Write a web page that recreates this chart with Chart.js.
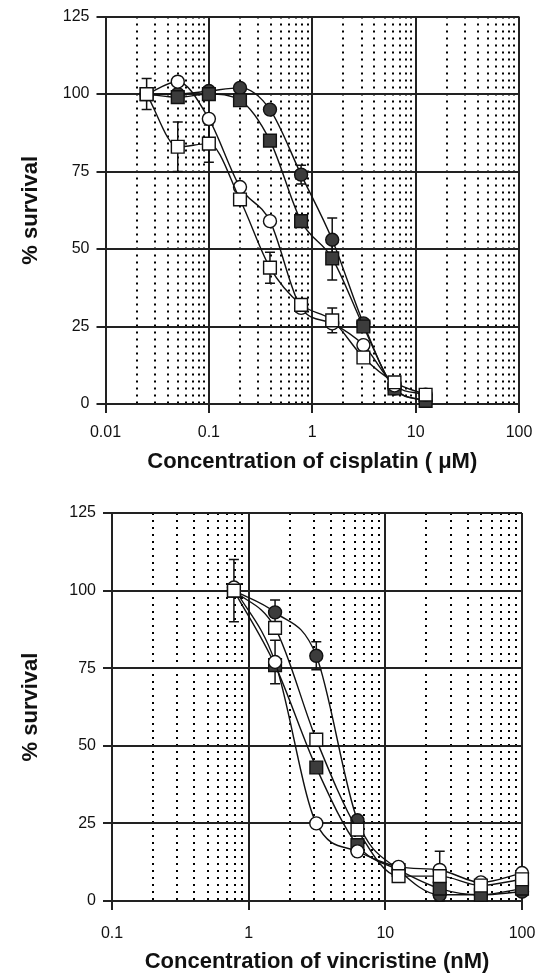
<!DOCTYPE html>
<html>
<head>
<meta charset="utf-8">
<title>% survival vs concentration</title>
<script src="https://cdn.jsdelivr.net/npm/chart.js@4.4.1/dist/chart.umd.min.js"></script>
<style>
  html, body { margin: 0; padding: 0; background: #fff; }
  canvas { display: block; }
</style>
</head>
<body>
<canvas id="cisChart" width="545" height="480"></canvas>
<canvas id="vinChart" width="545" height="500"></canvas>
<script>
// --- cisplatin panel (uM) ---
const cisDoses = [0.025, 0.05, 0.1, 0.2, 0.39, 0.78, 1.56, 3.125, 6.25, 12.5];
const cisOpenCircle = [100, 104, 92, 70, 59, 31, 26, 19, 6, 3];
const cisOpenSquare = [100, 83, 84, 66, 44, 32, 27, 15, 7, 3];
const cisFilledCircle = [100, 100, 101, 102, 95, 74, 53, 26, 5, 1];
const cisFilledSquare = [100, 99, 100, 98, 85, 59, 47, 25, 5, 1];
// error bars (+/-), 0 = none shown
const cisOpenCircleErr = [0, 0, 0, 0, 0, 0, 0, 0, 0, 0];
const cisOpenSquareErr = [5, 8, 6, 0, 5, 0, 4, 0, 0, 0];
const cisFilledCircleErr = [0, 0, 0, 0, 0, 3, 7, 0, 0, 0];
const cisFilledSquareErr = [0, 0, 0, 0, 0, 0, 7, 0, 0, 0];

// --- vincristine panel (nM) ---
const vinDoses = [0.78, 1.56, 3.125, 6.25, 12.5, 25, 50, 100];
const vinOpenCircle = [101, 77, 25, 16, 11, 10, 6, 9];
const vinOpenSquare = [100, 88, 52, 23, 8, 8, 5, 7];
const vinFilledCircle = [100, 93, 79, 26, 10, 2, 2, 3];
const vinFilledSquare = [100, 76, 43, 18, 10, 4, 2, 4];
const vinOpenCircleErr = [0, 7, 0, 0, 0, 0, 0, 0];
const vinOpenSquareErr = [10, 0, 0, 0, 0, 8, 0, 0];
const vinFilledCircleErr = [0, 4, 4.5, 0, 0, 0, 0, 0];
const vinFilledSquareErr = [0, 0, 0, 0, 0, 0, 0, 0];

const yTicks = [0, 25, 50, 75, 100, 125];

const FONT = "'Liberation Sans', Arial, Helvetica, sans-serif";
const INK = '#111';
const DARK_FILL = '#3c3c3c';

function logTicks(min, max) {
  const out = [];
  const e0 = Math.round(Math.log10(min));
  const e1 = Math.round(Math.log10(max));
  for (let e = e0; e < e1; e++) {
    for (let m = 1; m < 10; m++) out.push(+(m * Math.pow(10, e)).toPrecision(6));
  }
  out.push(max);
  return out;
}

function isDecade(v) {
  const l = Math.log10(v);
  return Math.abs(l - Math.round(l)) < 1e-9;
}

function series(xs, ys, errs, style, filled) {
  return {
    data: xs.map((x, i) => ({ x: x, y: ys[i] })),
    errors: errs,
    borderColor: INK,
    borderWidth: 1.4,
    pointStyle: style,
    pointRadius: style === 'rect' ? 9 : 6.5,
    pointBackgroundColor: filled ? DARK_FILL : '#fff',
    pointBorderColor: INK,
    pointBorderWidth: 1.4,
    cubicInterpolationMode: 'monotone',
    fill: false,
    clip: false
  };
}

// simple error bar drawing through the chart's own scales
const errorBars = {
  id: 'errorBars',
  beforeDatasetsDraw(chart) {
    const ctx = chart.ctx;
    const xs = chart.scales.x, ys = chart.scales.y;
    ctx.save();
    ctx.strokeStyle = INK;
    ctx.lineWidth = 1.5;
    chart.data.datasets.forEach(ds => {
      (ds.errors || []).forEach((e, i) => {
        if (!e) return;
        const p = ds.data[i];
        const px = xs.getPixelForValue(p.x);
        const top = ys.getPixelForValue(p.y + e);
        const bot = ys.getPixelForValue(p.y - e);
        ctx.beginPath();
        ctx.moveTo(px, top); ctx.lineTo(px, bot);
        ctx.moveTo(px - 5, top); ctx.lineTo(px + 5, top);
        ctx.moveTo(px - 5, bot); ctx.lineTo(px + 5, bot);
        ctx.stroke();
      });
    });
    ctx.restore();
  }
};

function makeChart(id, cfg) {
  const tickFont = { family: FONT, size: 16 };
  const titleFont = { family: FONT, size: 22, weight: 'bold' };
  return new Chart(document.getElementById(id), {
    type: 'line',
    data: { datasets: cfg.datasets },
    plugins: [errorBars],
    options: {
      responsive: false,
      devicePixelRatio: 1,
      animation: false,
      layout: { padding: { top: cfg.top, right: cfg.right, left: 0, bottom: 0 } },
      plugins: { legend: { display: false }, tooltip: { enabled: false } },
      scales: {
        x: {
          type: 'logarithmic',
          min: cfg.xMin,
          max: cfg.xMax,
          afterBuildTicks: s => {
            s.ticks = logTicks(cfg.xMin, cfg.xMax).map(v => ({ value: v, major: isDecade(v) }));
          },
          afterFit: s => {
            s.height = cfg.xAxisHeight;
            s.paddingLeft = 0;
            s.paddingRight = 0;
          },
          ticks: {
            autoSkip: false,
            maxRotation: 0,
            padding: cfg.xLabelPad,
            font: tickFont,
            color: INK,
            callback: v => isDecade(v) ? String(v) : ''
          },
          grid: {
            color: c => isDecade(c.tick.value) ? '#222' : '#000',
            lineWidth: 2,
            tickLength: 9,
            tickWidth: 2,
            tickColor: c => isDecade(c.tick.value) ? '#222' : 'rgba(0,0,0,0)'
          },
          border: {
            color: '#222',
            width: 2,
            dash: c => (c.tick && !isDecade(c.tick.value)) ? [2, 5] : []
          },
          title: {
            display: true,
            text: cfg.xTitle,
            font: titleFont,
            color: INK,
            padding: { top: 0, bottom: 5 }
          }
        },
        y: {
          min: 0,
          max: 125,
          afterBuildTicks: s => { s.ticks = yTicks.map(v => ({ value: v })); },
          afterFit: s => { s.width = cfg.yAxisWidth; },
          ticks: { padding: 7, font: tickFont, color: INK },
          grid: { color: '#222', lineWidth: 2, tickLength: 9, tickWidth: 2 },
          border: { color: '#222', width: 2 },
          title: {
            display: true,
            text: '% survival',
            font: titleFont,
            color: INK,
            padding: { top: 18, bottom: 0 }
          }
        }
      }
    }
  });
}

makeChart('cisChart', {
  top: 15, right: 26, yAxisWidth: 105.5, xAxisHeight: 76, xLabelPad: 10,
  xMin: 0.01, xMax: 100,
  xTitle: 'Concentration of cisplatin ( \u03bcM)',
  datasets: [
    series(cisDoses, cisOpenSquare, cisOpenSquareErr, 'rect', false),
    series(cisDoses, cisOpenCircle, cisOpenCircleErr, 'circle', false),
    series(cisDoses, cisFilledSquare, cisFilledSquareErr, 'rect', true),
    series(cisDoses, cisFilledCircle, cisFilledCircleErr, 'circle', true)
  ]
});

makeChart('vinChart', {
  top: 33, right: 23, yAxisWidth: 112, xAxisHeight: 79, xLabelPad: 14,
  xMin: 0.1, xMax: 100,
  xTitle: 'Concentration of vincristine (nM)',
  datasets: [
    series(vinDoses, vinOpenSquare, vinOpenSquareErr, 'rect', false),
    series(vinDoses, vinOpenCircle, vinOpenCircleErr, 'circle', false),
    series(vinDoses, vinFilledSquare, vinFilledSquareErr, 'rect', true),
    series(vinDoses, vinFilledCircle, vinFilledCircleErr, 'circle', true)
  ]
});
</script>
</body>
</html>
